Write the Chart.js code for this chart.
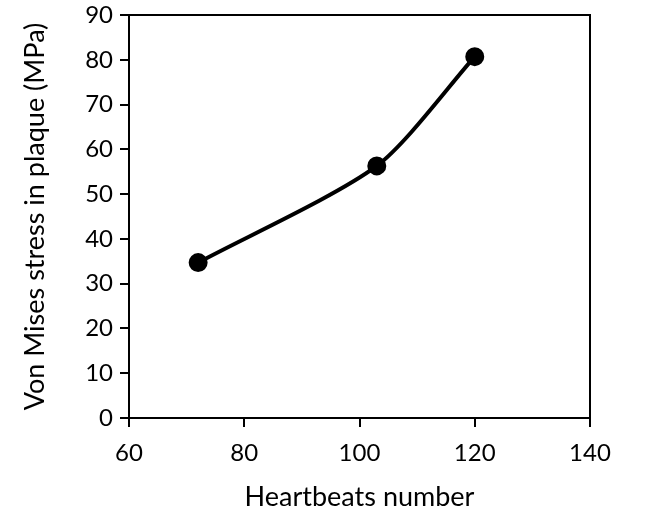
<!DOCTYPE html>
<html>
<head>
<meta charset="utf-8">
<script src="https://cdn.jsdelivr.net/npm/chart.js@4"></script>
<style>
  body { margin: 0; background: #fff; }
  #wrap { width: 665px; height: 513px; }
</style>
</head>
<body>
<div id="wrap"><canvas id="stressChart"></canvas></div>
<script>
const heartbeats = [72, 103, 120];
const stress = [34.7, 56.3, 80.7];
const xTicks = [60, 80, 100, 120, 140];
const yTicks = [0, 10, 20, 30, 40, 50, 60, 70, 80, 90];

const font = "Lato, 'Open Sans', sans-serif";

// box round the plot area (Excel style)
const frame = {
  id: "frame",
  afterDraw(chart) {
    const { ctx, chartArea: a } = chart;
    ctx.save();
    ctx.strokeStyle = "#000";
    ctx.lineWidth = 2;
    ctx.strokeRect(a.left, a.top, a.right - a.left, a.bottom - a.top);
    ctx.restore();
  },
};

new Chart(document.getElementById("stressChart"), {
  type: "scatter",
  data: {
    datasets: [
      {
        data: heartbeats.map((x, i) => ({ x, y: stress[i] })),
        showLine: true,
        borderColor: "#000",
        backgroundColor: "#000",
        borderWidth: 4,
        pointRadius: 7.5,
        pointHoverRadius: 7.5,
        tension: 0.25,
      },
    ],
  },
  options: {
    responsive: true,
    maintainAspectRatio: false,
    animation: false,
    layout: { padding: { top: 0, right: 75, bottom: 0, left: 0 } },
    plugins: { legend: { display: false }, tooltip: { enabled: false } },
    scales: {
      x: {
        type: "linear",
        min: 60,
        max: 140,
        afterBuildTicks: (s) => { s.ticks = xTicks.map((v) => ({ value: v })); },
        afterFit: (s) => { s.height = 95; },
        grid: { drawOnChartArea: false, tickLength: 9, color: "#000", lineWidth: 2 },
        border: { color: "#000", width: 2 },
        ticks: { color: "#000", font: { family: font, size: 24 }, padding: 12 },
        title: {
          display: true,
          text: "Heartbeats number",
          color: "#000",
          font: { family: font, size: 27 },
          padding: { top: 0, bottom: 0 },
        },
      },
      y: {
        min: 0,
        max: 90,
        afterBuildTicks: (s) => { s.ticks = yTicks.map((v) => ({ value: v })); },
        afterFit: (s) => { s.width = 129; s.paddingTop = 15; },
        grid: { drawOnChartArea: false, tickLength: 9, color: "#000", lineWidth: 2 },
        border: { color: "#000", width: 2 },
        ticks: { color: "#000", font: { family: font, size: 24 }, padding: 7 },
        title: {
          display: true,
          text: "Von Mises stress in plaque (MPa)",
          color: "#000",
          font: { family: font, size: 27 },
          padding: { top: 19, bottom: 0 },
        },
      },
    },
  },
  plugins: [frame],
});
</script>
</body>
</html>
